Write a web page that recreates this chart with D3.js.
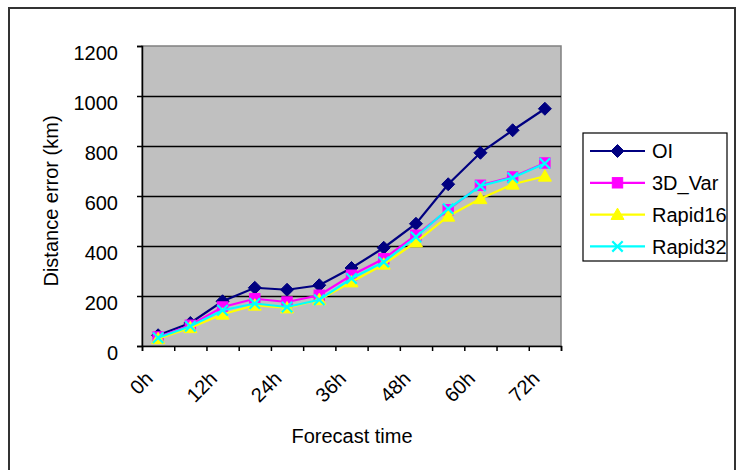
<!DOCTYPE html>
<html>
<head>
<meta charset="utf-8">
<script src="https://cdn.jsdelivr.net/npm/d3@7"></script>
<style>
  html, body { margin: 0; padding: 0; background: #fff; }
  svg { display: block; }
  text { font-family: "Liberation Sans", Arial, sans-serif; fill: #000; }
</style>
</head>
<body>
<svg id="chart" width="739" height="470"></svg>
<script>
// Forecast lead times (every 6 hours)
const categories = ["0h","6h","12h","18h","24h","30h","36h","42h","48h","54h","60h","66h","72h"];
const xTickLabels = ["0h","12h","24h","36h","48h","60h","72h"];
const yTicks = [0, 200, 400, 600, 800, 1000, 1200];

// Mean distance error (km) per scheme
const seriesNames = ["OI", "3D_Var", "Rapid16", "Rapid32"];
const oiValues      = [43, 92, 179, 233, 225, 243, 312, 393, 489, 647, 773, 863, 949];
const var3dValues   = [36, 83, 156, 189, 176, 203, 283, 349, 443, 545, 643, 676, 732];
const rapid16Values = [29, 73, 127, 163, 152, 185, 256, 327, 416, 519, 589, 647, 679];
const rapid32Values = [33, 79, 143, 170, 156, 185, 270, 336, 436, 549, 640, 673, 730];

const seriesColors = ["#000080", "#FF00FF", "#FFFF00", "#00FFFF"];
const seriesMarkers = ["diamond", "square", "triangle", "cross"];

const series = seriesNames.map((name, i) => ({
  name,
  values: [oiValues, var3dValues, rapid16Values, rapid32Values][i],
  color: seriesColors[i],
  marker: seriesMarkers[i]
}));

const svg = d3.select("#chart");

// outer chart frame
svg.append("rect")
  .attr("x", 9).attr("y", 8).attr("width", 726).attr("height", 470)
  .attr("fill", "#fff").attr("stroke", "#333").attr("stroke-width", 2);

const plot = { left: 142, right: 561, top: 46, bottom: 346 };

const x = d3.scaleBand().domain(categories).range([plot.left, plot.right]).padding(0);
const xEdge = d3.scaleLinear().domain([0, categories.length]).range([plot.left, plot.right]);
const y = d3.scaleLinear().domain([0, 1200]).range([plot.bottom, plot.top]);

// plot background
svg.append("rect")
  .attr("x", plot.left).attr("y", plot.top)
  .attr("width", plot.right - plot.left).attr("height", plot.bottom - plot.top)
  .attr("fill", "#C0C0C0").attr("stroke", "#808080").attr("stroke-width", 1.5);

// horizontal gridlines
svg.append("g").selectAll("line")
  .data(yTicks.filter(v => v > 0 && v < 1200))
  .join("line")
  .attr("x1", plot.left).attr("x2", plot.right)
  .attr("y1", d => Math.round(y(d)) + 0.5).attr("y2", d => Math.round(y(d)) + 0.5)
  .attr("stroke", "#000").attr("stroke-width", 1.3);

// y axis
const yAxis = svg.append("g")
  .attr("transform", `translate(${plot.left},0)`)
  .call(d3.axisLeft(y).tickValues(yTicks).tickSize(5).tickPadding(19).tickFormat(d3.format("d")));
yAxis.selectAll("path, line").attr("stroke", "#000").attr("stroke-width", 1.5);
yAxis.selectAll("text")
  .attr("font-size", 20)
  .attr("dy", "0.68em")
  .style("font-family", "'Liberation Sans', Arial, sans-serif");

// x axis with ticks at category boundaries
const xAxis = svg.append("g")
  .attr("transform", `translate(0,${plot.bottom})`)
  .call(d3.axisBottom(xEdge).tickValues(d3.range(categories.length + 1)).tickSize(5).tickFormat(""));
xAxis.selectAll("path, line").attr("stroke", "#000").attr("stroke-width", 1.5);

// rotated category labels
svg.append("g").selectAll("text")
  .data(xTickLabels)
  .join("text")
  .attr("transform", d => `translate(${x(d) + x.bandwidth() / 2 - 14},${plot.bottom + 24}) rotate(-45)`)
  .attr("text-anchor", "end")
  .attr("dy", "0.7em")
  .attr("font-size", 20)
  .text(d => d);

// axis titles
svg.append("text")
  .attr("transform", `translate(58,${(plot.top + plot.bottom) / 2 + 5}) rotate(-90)`)
  .attr("text-anchor", "middle")
  .attr("font-size", 20)
  .text("Distance error (km)");

svg.append("text")
  .attr("x", 352).attr("y", 443)
  .attr("text-anchor", "middle")
  .attr("font-size", 20)
  .text("Forecast time");

// marker drawing
function drawMarker(g, type, color, size) {
  const s = size;
  if (type === "diamond") {
    g.append("path")
      .attr("d", `M0,${-s}L${s},0L0,${s}L${-s},0Z`)
      .attr("fill", color).attr("stroke", color).attr("stroke-width", 1);
  } else if (type === "square") {
    const h = s * 0.8;
    g.append("rect")
      .attr("x", -h).attr("y", -h).attr("width", 2 * h).attr("height", 2 * h)
      .attr("fill", color).attr("stroke", color).attr("stroke-width", 1);
  } else if (type === "triangle") {
    g.append("path")
      .attr("d", `M0,${-s}L${s},${s * 0.75}L${-s},${s * 0.75}Z`)
      .attr("fill", color).attr("stroke", color).attr("stroke-width", 1);
  } else if (type === "cross") {
    const h = s * 0.8;
    g.append("path")
      .attr("d", `M${-h},${-h}L${h},${h}M${-h},${h}L${h},${-h}`)
      .attr("fill", "none").attr("stroke", color).attr("stroke-width", 2.2);
  }
}

const line = d3.line()
  .x((d, i) => x(categories[i]) + x.bandwidth() / 2)
  .y(d => y(d));

series.forEach(s => {
  const g = svg.append("g");
  g.append("path")
    .datum(s.values)
    .attr("d", line)
    .attr("fill", "none")
    .attr("stroke", s.color)
    .attr("stroke-width", 2.2);
  s.values.forEach((v, i) => {
    const m = g.append("g")
      .attr("transform", `translate(${x(categories[i]) + x.bandwidth() / 2},${y(v)})`);
    drawMarker(m, s.marker, s.color, 6.5);
  });
});

// legend
const legend = svg.append("g");
legend.append("rect")
  .attr("x", 583).attr("y", 133).attr("width", 144).attr("height", 128)
  .attr("fill", "#fff").attr("stroke", "#000").attr("stroke-width", 1.2);

const legendItems = legend.selectAll("g.item")
  .data(series)
  .join("g")
  .attr("class", "item")
  .attr("transform", (d, i) => `translate(590,${151 + i * 31.8})`);

legendItems.append("line")
  .attr("x1", 0).attr("x2", 55)
  .attr("stroke", d => d.color).attr("stroke-width", 2.2);

legendItems.each(function(d) {
  const m = d3.select(this).append("g").attr("transform", "translate(27.5,0)");
  drawMarker(m, d.marker, d.color, 6.5);
});

legendItems.append("text")
  .attr("x", 62).attr("dy", "0.36em")
  .attr("font-size", 20)
  .text(d => d.name);
</script>
</body>
</html>
